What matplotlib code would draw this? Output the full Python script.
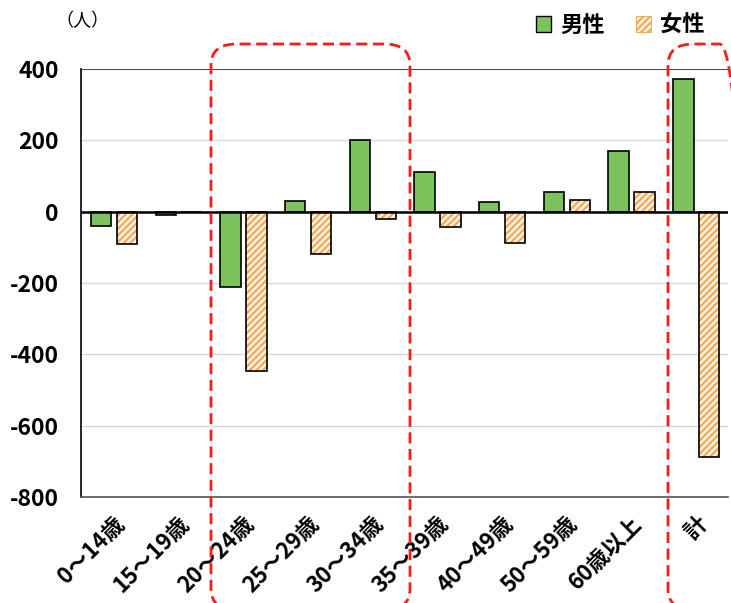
import matplotlib
matplotlib.use("Agg")
import matplotlib.pyplot as plt
import numpy as np
from matplotlib.patches import Patch, FancyBboxPatch

plt.rcParams['font.family'] = ['Noto Sans CJK JP', 'DejaVu Sans']
plt.rcParams['hatch.linewidth'] = 1.6

categories = ["0～14歳", "15～19歳", "20～24歳", "25～29歳", "30～34歳",
              "35～39歳", "40～49歳", "50～59歳", "60歳以上", "計"]
male = [-41, -8, -210, 31, 201, 112, 28, 56, 169, 372]
female = [-92, 0, -447, -120, -20, -42, -87, 34, 56, -688]
yticks = [400, 200, 0, -200, -400, -600, -800]

GREEN = "#7cc35e"
ORANGE = "#f2a95a"
PEACH = "#fff4e6"

fig = plt.figure(figsize=(7.31, 6.03), dpi=100)
ax = fig.add_axes([81 / 731, 1 - 497 / 603, 647 / 731, 428 / 603])

x = np.arange(len(categories))
w = 0.315
ax.bar(x - 0.19, male, w, color=GREEN, edgecolor="black", linewidth=1.2, zorder=3)
ax.bar(x + 0.21, female, w, color=PEACH, edgecolor=ORANGE, hatch="/////",
       linewidth=0, zorder=3)
ax.bar(x + 0.21, female, w, fill=False, edgecolor="black", linewidth=1.2, zorder=4)

ax.set_xlim(-0.5, len(categories) - 0.5)
ax.set_ylim(-800, 400)
ax.set_yticks(yticks)
ax.set_yticklabels([str(v) for v in yticks], fontsize=16.5, fontweight="bold")
ax.tick_params(axis="y", length=0, pad=16)
ax.tick_params(axis="x", length=0, pad=11)
ax.set_xticks(x)
ax.set_xticklabels(categories, rotation=45, ha="right", rotation_mode="anchor",
                   fontsize=16, fontweight="bold")
ax.yaxis.grid(True, color="#d9d9d9", linewidth=1, zorder=0)
ax.axhline(0, color="black", linewidth=1.8, zorder=5)
ax.axhline(400, color="#333333", linewidth=1.2, zorder=5)
for s in ["top", "right"]:
    ax.spines[s].set_visible(False)
ax.spines["left"].set_color("black")
ax.spines["left"].set_linewidth(1.2)
ax.spines["bottom"].set_color("#555555")
ax.spines["bottom"].set_linewidth(1.2)

fig.text(82 / 731, 1 - 21 / 603, "（人）", fontsize=13, ha="center", va="center")

handles = [Patch(facecolor=GREEN, edgecolor="black", linewidth=1),
           Patch(facecolor=PEACH, edgecolor=ORANGE, hatch="/////", linewidth=0.8)]
fig.legend(handles, ["男性", "女性"], loc="center", bbox_to_anchor=(620 / 731, 1 - 25 / 603),
           ncol=2, frameon=False, handlelength=0.7, handleheight=0.7,
           handletextpad=0.4, columnspacing=1.4, prop={"size": 16, "weight": "bold"})

# red dashed highlight boxes
for (x0, x1) in [(211, 410), (668, 745)]:
    box = FancyBboxPatch((x0 / 731, 1 - 610 / 603), (x1 - x0) / 731, (610 - 44) / 603,
                         boxstyle="round,pad=0,rounding_size=0.035",
                         transform=fig.transFigure, fill=False, edgecolor="#ff1a1a",
                         linestyle=(0, (4, 2)), linewidth=2, zorder=10, clip_on=False)
    fig.add_artist(box)

fig.savefig("out.png", dpi=100)
